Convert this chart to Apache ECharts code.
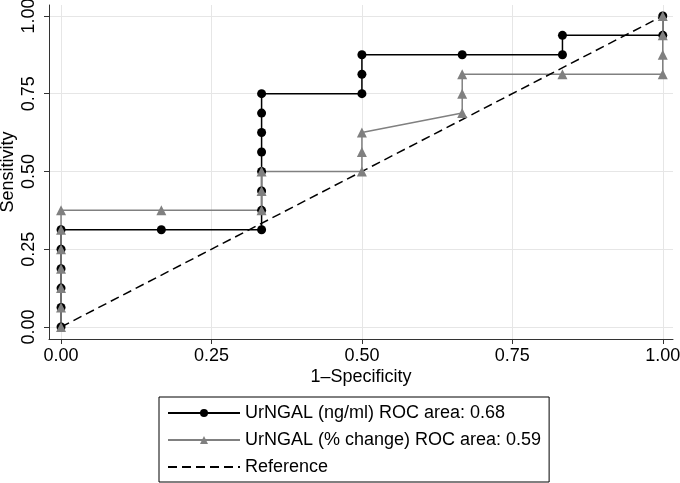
<!DOCTYPE html>
<html lang="en">

<head>
  <meta charset="UTF-8">
  <title>ROC UrNGAL</title>
  <style>
    html, body {
      margin: 0;
      padding: 0;
      background-color: #fff;
    }

    #chart {
      width: 680px;
      height: 483px;
    }
  </style>
</head>

<body>
  <div id="chart"></div>
  <script src="https://cdn.jsdelivr.net/npm/echarts@6/dist/echarts.min.js"></script>
  <script>
    // UrNGAL (ng/ml): 1-specificity / sensitivity
    const ngX = [0, 0, 0, 0, 0, 0, 0.1667, 0.3333, 0.3333, 0.3333, 0.3333, 0.3333, 0.3333, 0.3333, 0.3333,
      0.5, 0.5, 0.5, 0.6667, 0.8333, 0.8333, 1, 1]
    const ngY = [0, 0.0625, 0.125, 0.1875, 0.25, 0.3125, 0.3125, 0.3125, 0.375, 0.4375, 0.5, 0.5625, 0.625, 0.6875, 0.75,
      0.75, 0.8125, 0.875, 0.875, 0.875, 0.9375, 0.9375, 1]

    // UrNGAL (% change)
    const pctX = [0, 0, 0, 0, 0, 0, 0, 0.1667, 0.3333, 0.3333, 0.3333, 0.5, 0.5, 0.5,
      0.6667, 0.6667, 0.6667, 0.8333, 1, 1, 1, 1]
    const pctY = [0, 0.0625, 0.125, 0.1875, 0.25, 0.3125, 0.375, 0.375, 0.375, 0.4375, 0.5, 0.5, 0.5625, 0.625,
      0.6875, 0.75, 0.8125, 0.8125, 0.8125, 0.875, 0.9375, 1]

    const refX = [0, 1]
    const refY = [0, 1]

    const tickValues = [0, 0.25, 0.5, 0.75, 1]
    const seriesNames = ['UrNGAL (ng/ml) ROC area: 0.68', 'UrNGAL (% change) ROC area: 0.59', 'Reference']

    const zip = (xs, ys) => xs.map((x, i) => [x, ys[i]])

    const font = 'Liberation Sans, Arial, Helvetica, sans-serif'
    const gridColor = '#e6e6e6'
    const axisColor = '#333'

    const axisCommon = {
      type: 'value',
      axisLine: { show: true, onZero: false, lineStyle: { color: axisColor, width: 1 } },
      axisTick: { show: true, length: 5, customValues: tickValues, lineStyle: { color: axisColor } },
      axisLabel: {
        customValues: tickValues,
        color: '#000',
        fontSize: 18,
        fontFamily: font,
        formatter: v => v.toFixed(2)
      },
      splitLine: { show: true, lineStyle: { color: gridColor, width: 1 } },
      nameTextStyle: { color: '#000', fontSize: 18, fontFamily: font },
      nameLocation: 'middle',
      nameMoveOverlap: false
    }

    const option = {
      animation: false,
      backgroundColor: '#fff',
      grid: { left: 49, right: 7, top: 5, bottom: 144, containLabel: false, outerBoundsMode: 'none' },
      legend: {
        orient: 'vertical',
        left: 159,
        top: 397,
        padding: [7, 8, 6, 8],
        itemGap: 9,
        itemWidth: 72,
        itemHeight: 10,
        borderColor: '#000',
        borderWidth: 1,
        selectedMode: false,
        textStyle: { color: '#000', fontSize: 18, fontFamily: font },
        data: seriesNames
      },
      xAxis: Object.assign({}, axisCommon, {
        min: -0.02,
        max: 1.017,
        name: '1–Specificity',
        nameGap: 29,
        axisLabel: Object.assign({}, axisCommon.axisLabel, { margin: 8 })
      }),
      yAxis: Object.assign({}, axisCommon, {
        min: -0.0386,
        max: 1.035,
        name: 'Sensitivity',
        nameGap: 32,
        axisLabel: Object.assign({}, axisCommon.axisLabel, { rotate: 90, margin: 11 })
      }),
      series: [
        {
          name: seriesNames[0],
          type: 'line',
          data: zip(ngX, ngY),
          symbol: 'circle',
          symbolSize: 9,
          color: '#000',
          lineStyle: { color: '#000', width: 1.5 },
          itemStyle: { color: '#000' }
        },
        {
          name: seriesNames[1],
          type: 'line',
          data: zip(pctX, pctY),
          symbol: 'triangle',
          symbolSize: 10,
          color: '#808080',
          lineStyle: { color: '#808080', width: 1.5 },
          itemStyle: { color: '#808080' }
        },
        {
          name: seriesNames[2],
          type: 'line',
          data: zip(refX, refY),
          symbol: 'none',
          lineStyle: { color: '#000', width: 1.5, type: [9, 5] },
          itemStyle: { color: 'rgba(0,0,0,0)' }
        }
      ]
    }

    const myChart = echarts.init(document.getElementById('chart'))
    myChart.setOption(option)
  </script>
</body>

</html>
